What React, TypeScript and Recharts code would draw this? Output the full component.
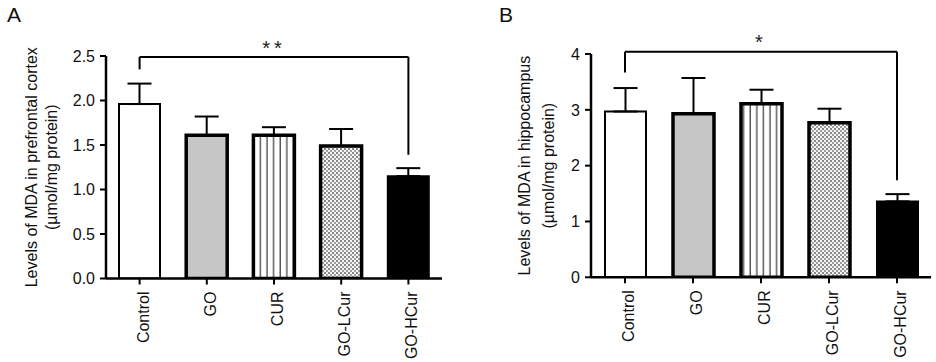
import React from 'react';
import { BarChart, Bar, Cell, XAxis, YAxis, ErrorBar, ReferenceLine, Label } from 'recharts';

// groups and measured values (mean and SD, upper error only)
const GROUPS = ['Control', 'GO', 'CUR', 'GO-LCur', 'GO-HCur'];
const PFC_MEAN = [1.96, 1.61, 1.61, 1.49, 1.15];
const PFC_SD = [0.23, 0.21, 0.09, 0.19, 0.09];
const HIP_MEAN = [2.97, 2.93, 3.11, 2.77, 1.36];
const HIP_SD = [0.42, 0.64, 0.25, 0.25, 0.13];

const PFC_TICKS = [0, 0.5, 1, 1.5, 2, 2.5];
const HIP_TICKS = [0, 1, 2, 3, 4];

const PFC_TITLE = ['Levels of MDA in prefrontal cortex', '(µmol/mg protein)'];
const HIP_TITLE = ['Levels of MDA in hippocampus', '(µmol/mg protein)'];

// significance bracket: from/to group, top level, leg ends, label
const PFC_SIG = { from: 'Control', to: 'GO-HCur', top: 2.49, fromEnd: 2.35, toEnd: 1.39, label: '**' };
const HIP_SIG = { from: 'Control', to: 'GO-HCur', top: 4.04, fromEnd: 3.67, toEnd: 1.74, label: '*' };

const FILLS = ['#ffffff', '#c6c6c6', 'url(#vlines)', 'url(#dots)', '#000000'];
const STROKE_W = [2, 3.5, 3.5, 3.5, 2];

const FONT = '"Liberation Sans", Arial, Helvetica, sans-serif';
const FS = 16;

const toRows = (mean: number[], sd: number[]) =>
  GROUPS.map((g, i) => ({ group: g, value: mean[i], err: [0, sd[i]] }));

const RotatedTick = (props: any) => {
  const { x, y, payload } = props;
  return (
    <text
      x={x}
      y={y}
      transform={`rotate(-90, ${x}, ${y})`}
      textAnchor="end"
      dy={9}
      fontSize={FS}
      fill="#111"
      fontFamily={FONT}
    >
      {payload.value}
    </text>
  );
};

function titleContent(lines: string[], x1: number, x2: number) {
  return (props: any) => {
    const vb = props.viewBox || {};
    const cy = (vb.y ?? 56) + (vb.height ?? 222) / 2;
    return (
      <g>
        {[x1, x2].map((bx, i) => (
          <text
            key={i}
            x={bx}
            y={cy}
            transform={`rotate(-90, ${bx}, ${cy})`}
            textAnchor="middle"
            fontSize={FS}
            fill="#111"
            fontFamily={FONT}
          >
            {lines[i]}
          </text>
        ))}
      </g>
    );
  };
}

interface PanelProps {
  width: number;
  mean: number[];
  sd: number[];
  ticks: number[];
  decimals: number;
  title: string[];
  titleX: [number, number];
  sig: typeof PFC_SIG;
  sigOffset: number;
  top: number;
  bottom: number;
  right: number;
  yWidth: number;
}

function Panel({ width, mean, sd, ticks, decimals, title, titleX, sig, sigOffset, top, bottom, right, yWidth }: PanelProps) {
  const data = toRows(mean, sd);
  const max = ticks[ticks.length - 1];
  return (
    <BarChart width={width} height={362} data={data} margin={{ top, right, bottom: 0, left: 0 }} barCategoryGap={0}>
      <XAxis
        dataKey="group"
        height={362 - bottom}
        tick={<RotatedTick />}
        tickSize={6}
        tickMargin={7}
        interval={0}
        axisLine={{ stroke: '#000', strokeWidth: 2.5 }}
        tickLine={{ stroke: '#000', strokeWidth: 2 }}
      />
      <YAxis
        type="number"
        domain={[0, max]}
        ticks={ticks}
        width={yWidth}
        tickSize={6}
        tickMargin={5}
        tickFormatter={(v: number) => v.toFixed(decimals)}
        tick={{ fontSize: FS, fill: '#111', fontFamily: FONT }}
        axisLine={{ stroke: '#000', strokeWidth: 2.5 }}
        tickLine={{ stroke: '#000', strokeWidth: 2 }}
        allowDataOverflow
      >
        <Label content={titleContent(title, titleX[0], titleX[1])} />
      </YAxis>
      <Bar dataKey="value" barSize={41} isAnimationActive={false} stroke="#000">
        {data.map((d, i) => (
          <Cell key={d.group} fill={FILLS[i]} stroke="#000" strokeWidth={STROKE_W[i]} />
        ))}
        <ErrorBar dataKey="err" width={12} stroke="#000" strokeWidth={2} direction="y" />
      </Bar>
      <ReferenceLine
        segment={[{ x: sig.from, y: sig.top }, { x: sig.to, y: sig.top }]}
        stroke="#000"
        strokeWidth={2}
        ifOverflow="visible"
        label={{
          value: sig.label,
          position: 'top',
          offset: sigOffset,
          fontSize: 20,
          fill: '#222',
          fontFamily: FONT,
          letterSpacing: 4,
        }}
      />
      <ReferenceLine
        segment={[{ x: sig.from, y: sig.top }, { x: sig.from, y: sig.fromEnd }]}
        stroke="#000"
        strokeWidth={2}
        ifOverflow="visible"
      />
      <ReferenceLine
        segment={[{ x: sig.to, y: sig.top }, { x: sig.to, y: sig.toEnd }]}
        stroke="#000"
        strokeWidth={2}
        ifOverflow="visible"
      />
    </BarChart>
  );
}

export default function App() {
  return (
    <div style={{ position: 'absolute', left: 0, top: 0, width: 936, height: 362, background: '#fff', fontFamily: FONT }}>
      <svg width={0} height={0} style={{ position: 'absolute' }}>
        <defs>
          <pattern id="vlines" patternUnits="userSpaceOnUse" width={6.6} height={10}>
            <rect width={6.6} height={10} fill="#fff" />
            <line x1={3} y1={0} x2={3} y2={10} stroke="#222" strokeWidth={1.1} />
          </pattern>
          <pattern id="dots" patternUnits="userSpaceOnUse" width={4} height={4}>
            <rect width={4} height={4} fill="#f4f4f4" />
            <circle cx={1} cy={1} r={0.9} fill="#555" />
            <circle cx={3} cy={3} r={0.9} fill="#777" />
          </pattern>
        </defs>
      </svg>
      <div style={{ position: 'absolute', left: 7, top: 0, fontSize: 21, lineHeight: '30px', color: '#111' }}>A</div>
      <div style={{ position: 'absolute', left: 499, top: 0, fontSize: 21, lineHeight: '30px', color: '#111' }}>B</div>
      <div style={{ position: 'absolute', left: 0, top: 0 }}>
        <Panel
          width={470}
          mean={PFC_MEAN}
          sd={PFC_SD}
          ticks={PFC_TICKS}
          decimals={1}
          title={PFC_TITLE}
          titleX={[37, 57]}
          sig={PFC_SIG}
          sigOffset={2}
          top={56}
          bottom={278.5}
          right={28}
          yWidth={106}
        />
      </div>
      <div style={{ position: 'absolute', left: 470, top: 0 }}>
        <Panel
          width={466}
          mean={HIP_MEAN}
          sd={HIP_SD}
          ticks={HIP_TICKS}
          decimals={0}
          title={HIP_TITLE}
          titleX={[60, 84]}
          sig={HIP_SIG}
          sigOffset={3}
          top={54}
          bottom={277.3}
          right={5}
          yWidth={121}
        />
      </div>
    </div>
  );
}
